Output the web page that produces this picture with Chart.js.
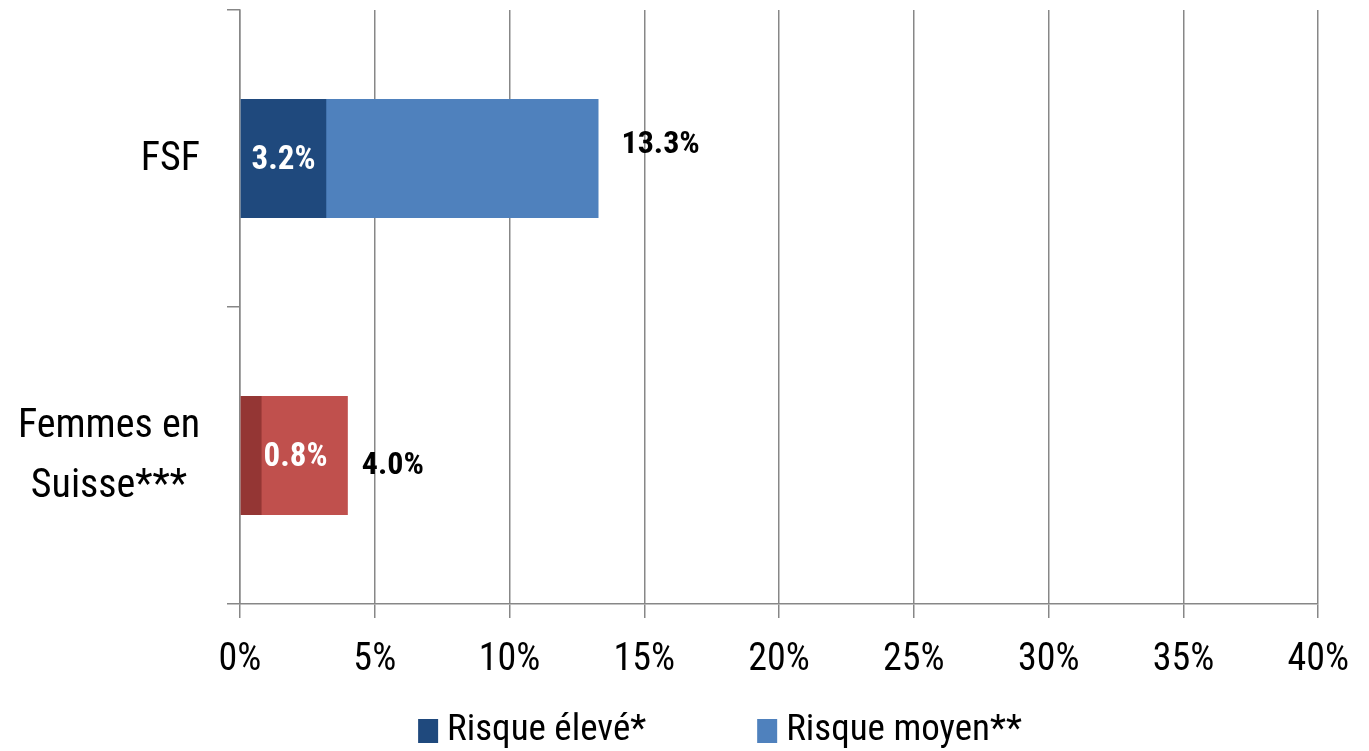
<!DOCTYPE html>
<html lang="fr">
<head>
<meta charset="utf-8">
<title>Risque élevé / moyen</title>
<script src="https://cdn.jsdelivr.net/npm/chart.js@4.4.1/dist/chart.umd.min.js"></script>
<style>
  html, body { margin: 0; padding: 0; background: #ffffff; }
  #wrap { width: 1369px; height: 751px; position: relative; }
</style>
</head>
<body>
<div id="wrap"><canvas id="chart" width="1369" height="751"></canvas></div>
<script>
// Groups shown on the category axis (multi-line labels as arrays)
const categories = ['FSF', ['Femmes en', 'Suisse***']];

// Share of women at high risk and at medium-or-higher risk (%)
const risqueEleve = [3.2, 0.8];
const risqueMoyen = [13.3, 4.0];

// Value axis ticks (%)
const xTickValues = [0, 5, 10, 15, 20, 25, 30, 35, 40];

const seriesNames = ['Risque élevé*', 'Risque moyen**'];

// Colours per group: blue for FSF, red for the Swiss reference
const eleveColors = ['#1F497D', '#943634'];
const moyenColors = ['#4F81BD', '#C0504D'];
const legendColors = ['#1F497D', '#4F81BD'];

const FONT = "'Roboto Condensed', 'Liberation Sans', sans-serif";
const GRID = '#878787';

// Placement of the total labels next to each bar end (pixels)
const totalLabelShift = [{ dx: 23, dy: -14 }, { dx: 14, dy: 10 }];

const labelPlugin = {
  id: 'customLabels',
  afterDraw(chart) {
    const ctx = chart.ctx;
    const yScale = chart.scales.y;

    // Category labels: block right-aligned, lines centred inside the block
    ctx.save();
    ctx.fillStyle = '#000000';
    ctx.font = '40px ' + FONT;
    ctx.textBaseline = 'middle';
    ctx.textAlign = 'center';
    const blockRight = 200;
    const lineGap = 60;
    categories.forEach((cat, i) => {
      const lines = Array.isArray(cat) ? cat : [cat];
      const widest = Math.max(...lines.map(l => ctx.measureText(l).width));
      const cx = blockRight - widest / 2;
      const yc = yScale.getPixelForValue(i) + 1;
      const y0 = yc - (lines.length - 1) * lineGap / 2;
      lines.forEach((l, k) => ctx.fillText(l, cx, y0 + k * lineGap));
    });
    ctx.restore();

    // Value labels inside the high-risk bars
    const metaE = chart.getDatasetMeta(0);
    ctx.save();
    ctx.font = 'bold 33px ' + FONT;
    ctx.fillStyle = '#ffffff';
    ctx.textBaseline = 'middle';
    metaE.data.forEach((bar, i) => {
      const txt = risqueEleve[i].toFixed(1) + '%';
      const w = ctx.measureText(txt).width;
      const barW = bar.x - bar.base;
      if (w + 8 < barW) {
        ctx.textAlign = 'center';
        ctx.fillText(txt, (bar.x + bar.base) / 2, bar.y + 2);
      } else {
        ctx.textAlign = 'left';
        ctx.fillText(txt, bar.x + 2, bar.y + 2);
      }
    });
    ctx.restore();

    // Total labels after the medium-risk bars
    const metaM = chart.getDatasetMeta(1);
    ctx.save();
    ctx.font = 'bold 32px ' + FONT;
    ctx.fillStyle = '#000000';
    ctx.textBaseline = 'middle';
    ctx.textAlign = 'left';
    metaM.data.forEach((bar, i) => {
      const txt = risqueMoyen[i].toFixed(1) + '%';
      const s = totalLabelShift[i];
      ctx.fillText(txt, bar.x + s.dx, bar.y + s.dy);
    });
    ctx.restore();

    // Legend
    ctx.save();
    ctx.font = '37px ' + FONT;
    ctx.textBaseline = 'middle';
    ctx.textAlign = 'left';
    const boxW = 20, boxH = 24, textGap = 9, itemGap = 111;
    const widths = seriesNames.map(n => ctx.measureText(n).width);
    const total = widths.reduce((a, b) => a + b, 0) + seriesNames.length * (boxW + textGap) + itemGap * (seriesNames.length - 1);
    let x = 720 - total / 2;
    const yc = 731;
    seriesNames.forEach((n, i) => {
      ctx.fillStyle = legendColors[i];
      ctx.fillRect(x, yc - boxH / 2, boxW, boxH);
      ctx.fillStyle = '#000000';
      ctx.fillText(n, x + boxW + textGap, yc);
      x += boxW + textGap + widths[i] + itemGap;
    });
    ctx.restore();
  }
};

new Chart(document.getElementById('chart'), {
  type: 'bar',
  data: {
    labels: categories,
    datasets: [
      {
        label: seriesNames[0],
        data: risqueEleve,
        backgroundColor: eleveColors,
        grouped: false,
        categoryPercentage: 0.4,
        barPercentage: 1.0
      },
      {
        label: seriesNames[1],
        data: risqueMoyen,
        backgroundColor: moyenColors,
        grouped: false,
        categoryPercentage: 0.4,
        barPercentage: 1.0
      }
    ]
  },
  options: {
    indexAxis: 'y',
    responsive: false,
    animation: false,
    devicePixelRatio: 1,
    layout: { padding: { top: 10, right: 49, bottom: 0, left: 0 } },
    plugins: {
      legend: { display: false },
      tooltip: { enabled: false }
    },
    scales: {
      x: {
        min: 0,
        max: 40,
        afterBuildTicks(scale) {
          scale.ticks = xTickValues.map(v => ({ value: v }));
        },
        afterFit(scale) { scale.height = 147; },
        grid: {
          color: GRID,
          lineWidth: 1.5,
          drawTicks: true,
          tickLength: 14,
          tickColor: GRID
        },
        border: { display: true, color: GRID, width: 1.5 },
        ticks: {
          color: '#000000',
          padding: 20,
          maxRotation: 0,
          font: { family: FONT, size: 38 },
          callback: v => v + '%'
        }
      },
      y: {
        offset: true,
        afterFit(scale) { scale.width = 240; },
        grid: {
          offset: true,
          drawOnChartArea: false,
          drawTicks: true,
          tickLength: 13,
          color: GRID,
          lineWidth: 1.5
        },
        border: { display: true, color: GRID, width: 1.5 },
        ticks: { display: false }
      }
    }
  },
  plugins: [labelPlugin]
});
</script>
</body>
</html>
